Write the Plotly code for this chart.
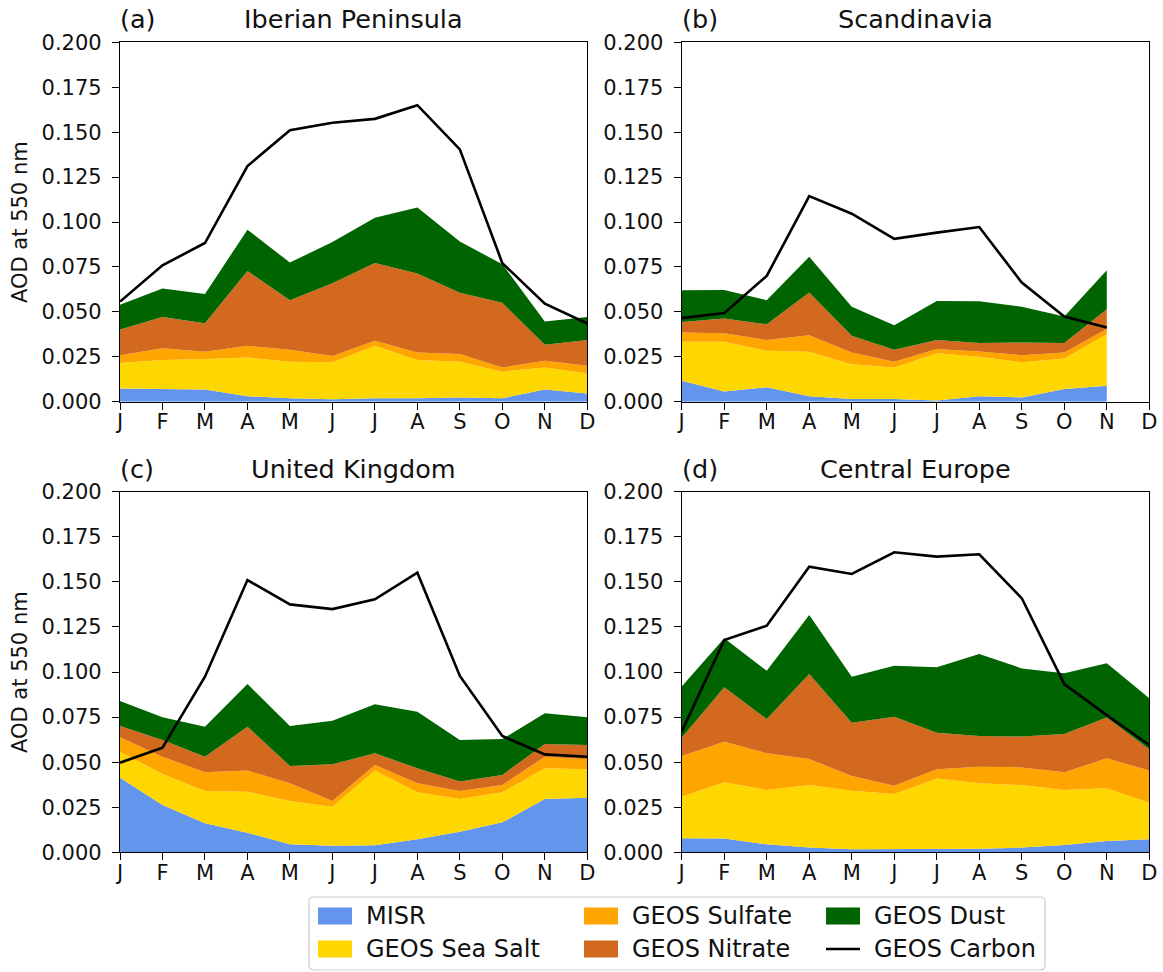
import plotly.graph_objects as go

# ---------------- data ----------------
months = ["J", "F", "M", "A", "M", "J", "J", "A", "S", "O", "N", "D"]
month_idx = list(range(12))

regions = ["Iberian Peninsula", "Scandinavia", "United Kingdom", "Central Europe"]
panel_tags = ["(a)", "(b)", "(c)", "(d)"]

series_names = ["MISR", "GEOS Sea Salt", "GEOS Sulfate", "GEOS Nitrate", "GEOS Dust"]
series_colors = ["#6495ED", "#FFD700", "#FFA500", "#D2691E", "#006400"]
carbon_name = "GEOS Carbon"

y_ticks = [0.0, 0.025, 0.05, 0.075, 0.1, 0.125, 0.15, 0.175, 0.2]

# (a) Iberian Peninsula
misr_a = [0.0074, 0.0072, 0.0068, 0.0030, 0.0019, 0.0014, 0.0019, 0.0019, 0.0024, 0.0019, 0.0068, 0.0046]
salt_a = [0.0141, 0.0160, 0.0169, 0.0216, 0.0203, 0.0205, 0.0292, 0.0213, 0.0198, 0.0148, 0.0123, 0.0113]
sulf_a = [0.0044, 0.0066, 0.0041, 0.0065, 0.0067, 0.0035, 0.0028, 0.0042, 0.0043, 0.0024, 0.0037, 0.0041]
nitr_a = [0.0143, 0.0174, 0.0159, 0.0417, 0.0276, 0.0405, 0.0433, 0.0439, 0.0341, 0.0359, 0.0089, 0.0143]
dust_a = [0.0137, 0.0158, 0.0163, 0.0229, 0.0209, 0.0230, 0.0252, 0.0367, 0.0285, 0.0215, 0.0129, 0.0129]
carb_a = [0.0557, 0.0759, 0.0883, 0.1311, 0.1511, 0.1552, 0.1574, 0.1650, 0.1404, 0.0771, 0.0546, 0.0435]

# (b) Scandinavia (no December value)
misr_b = [0.0117, 0.0057, 0.0080, 0.0030, 0.0015, 0.0015, 0.0006, 0.0030, 0.0024, 0.0070, 0.0089, None]
salt_b = [0.0216, 0.0276, 0.0203, 0.0248, 0.0194, 0.0176, 0.0263, 0.0220, 0.0195, 0.0171, 0.0287, None]
sulf_b = [0.0052, 0.0048, 0.0061, 0.0092, 0.0065, 0.0031, 0.0024, 0.0030, 0.0040, 0.0033, 0.0028, None]
nitr_b = [0.0059, 0.0082, 0.0087, 0.0237, 0.0093, 0.0067, 0.0050, 0.0046, 0.0071, 0.0052, 0.0111, None]
dust_b = [0.0176, 0.0159, 0.0134, 0.0199, 0.0161, 0.0137, 0.0218, 0.0233, 0.0198, 0.0148, 0.0216, None]
carb_b = [0.0465, 0.0493, 0.0700, 0.1144, 0.1046, 0.0906, 0.0941, 0.0972, 0.0663, 0.0474, 0.0413, None]

# (c) United Kingdom
misr_c = [0.0414, 0.0262, 0.0161, 0.0109, 0.0044, 0.0037, 0.0039, 0.0072, 0.0114, 0.0166, 0.0296, 0.0303]
salt_c = [0.0144, 0.0172, 0.0179, 0.0227, 0.0241, 0.0216, 0.0414, 0.0261, 0.0182, 0.0167, 0.0170, 0.0158]
sulf_c = [0.0080, 0.0096, 0.0104, 0.0117, 0.0098, 0.0032, 0.0031, 0.0050, 0.0044, 0.0040, 0.0064, 0.0055]
nitr_c = [0.0062, 0.0093, 0.0086, 0.0244, 0.0096, 0.0203, 0.0065, 0.0083, 0.0052, 0.0056, 0.0071, 0.0079]
dust_c = [0.0139, 0.0126, 0.0167, 0.0236, 0.0221, 0.0242, 0.0272, 0.0314, 0.0231, 0.0199, 0.0170, 0.0154]
carb_c = [0.0497, 0.0580, 0.0974, 0.1510, 0.1375, 0.1349, 0.1403, 0.1551, 0.0978, 0.0645, 0.0543, 0.0530]

# (d) Central Europe
misr_d = [0.0078, 0.0076, 0.0044, 0.0026, 0.0017, 0.0018, 0.0018, 0.0020, 0.0026, 0.0041, 0.0063, 0.0072]
salt_d = [0.0230, 0.0312, 0.0301, 0.0347, 0.0325, 0.0305, 0.0392, 0.0363, 0.0347, 0.0304, 0.0292, 0.0203]
sulf_d = [0.0226, 0.0225, 0.0204, 0.0144, 0.0081, 0.0046, 0.0050, 0.0092, 0.0098, 0.0099, 0.0166, 0.0178]
nitr_d = [0.0102, 0.0302, 0.0190, 0.0472, 0.0296, 0.0383, 0.0203, 0.0170, 0.0171, 0.0212, 0.0226, 0.0118]
dust_d = [0.0283, 0.0272, 0.0268, 0.0327, 0.0255, 0.0283, 0.0363, 0.0455, 0.0378, 0.0337, 0.0301, 0.0283]
carb_d = [0.0669, 0.1177, 0.1257, 0.1584, 0.1544, 0.1664, 0.1640, 0.1653, 0.1409, 0.0933, 0.0761, 0.0595]

panels = [
    [misr_a, salt_a, sulf_a, nitr_a, dust_a, carb_a],
    [misr_b, salt_b, sulf_b, nitr_b, dust_b, carb_b],
    [misr_c, salt_c, sulf_c, nitr_c, dust_c, carb_c],
    [misr_d, salt_d, sulf_d, nitr_d, dust_d, carb_d],
]

# ---------------- layout geometry (pixels) ----------------
W, H = 1163, 972
FONT = "DejaVu Sans"
TICK_SIZE = 21
TITLE_SIZE = 25.5
LEG_SIZE = 24

def fx(p):
    return p / W

def fy(p):
    return 1 - p / H

x_domains = [[fx(120), fx(587.3)], [fx(681.7), fx(1149.3)]]
y_domains = [[fy(401.7), fy(42.3)], [fy(852.3), fy(491.7)]]

fig = go.Figure()

for i, data in enumerate(panels):
    ax = "" if i == 0 else str(i + 1)
    xref, yref = "x" + ax, "y" + ax
    comps, carbon = data[:5], data[5]
    keep = [k for k in month_idx if carbon[k] is not None]
    xs = [month_idx[k] for k in keep]
    for name, color, vals in zip(series_names, series_colors, comps):
        fig.add_trace(go.Scatter(
            x=xs, y=[vals[k] for k in keep], name=name, xaxis=xref, yaxis=yref,
            stackgroup=f"p{i}", mode="lines", line=dict(width=0, color=color),
            fillcolor=color, showlegend=False, hoverinfo="skip"))
    fig.add_trace(go.Scatter(
        x=xs, y=[carbon[k] for k in keep], name=carbon_name, xaxis=xref, yaxis=yref,
        mode="lines", line=dict(color="black", width=2.6), showlegend=False,
        hoverinfo="skip"))

axis_common = dict(showline=True, linecolor="black", linewidth=1.2, mirror=True,
                   ticks="outside", ticklen=7, tickwidth=1.2, tickcolor="black",
                   showgrid=False, zeroline=False, automargin=False,
                   tickfont=dict(family=FONT, size=TICK_SIZE, color="#111"))

layout = dict(width=W, height=H, margin=dict(l=0, r=0, t=0, b=0, autoexpand=False),
              paper_bgcolor="white", plot_bgcolor="white", showlegend=False,
              font=dict(family=FONT, color="#111"))

annotations = []
for i in range(4):
    ax = "" if i == 0 else str(i + 1)
    col, row = i % 2, i // 2
    layout["xaxis" + ax] = dict(axis_common, domain=x_domains[col], anchor="y" + ax,
                                range=[0, 11], tickmode="array", tickvals=month_idx,
                                ticktext=months, ticklabelstandoff=-6)
    layout["yaxis" + ax] = dict(axis_common, domain=y_domains[row], anchor="x" + ax,
                                range=[0, 0.2], tickmode="array", tickvals=y_ticks,
                                tickformat=".3f", ticklabelstandoff=6)
    annotations.append(dict(text=regions[i], xref=f"x{ax} domain", yref=f"y{ax} domain",
                            x=0.5, y=1, xanchor="center", yanchor="bottom", yshift=6,
                            showarrow=False, font=dict(family=FONT, size=TITLE_SIZE, color="#111")))
    annotations.append(dict(text=panel_tags[i], xref=f"x{ax} domain", yref=f"y{ax} domain",
                            x=0, y=1, xanchor="left", yanchor="bottom", yshift=6, xshift=-2,
                            showarrow=False, font=dict(family=FONT, size=TITLE_SIZE, color="#111")))
    if col == 0:
        annotations.append(dict(text="AOD at 550 nm", xref="paper", yref=f"y{ax} domain",
                                x=fx(20), y=0.5, xanchor="center", yanchor="middle",
                                textangle=-90, showarrow=False,
                                font=dict(family=FONT, size=TICK_SIZE, color="#111")))

# ---------------- manual legend ----------------
def rounded_box(x0, y0, x1, y1, r):
    X = lambda v: f"{fx(v):.5f}"
    Y = lambda v: f"{fy(v):.5f}"
    return (f"M {X(x0 + r)},{Y(y0)} L {X(x1 - r)},{Y(y0)} Q {X(x1)},{Y(y0)} {X(x1)},{Y(y0 + r)} "
            f"L {X(x1)},{Y(y1 - r)} Q {X(x1)},{Y(y1)} {X(x1 - r)},{Y(y1)} "
            f"L {X(x0 + r)},{Y(y1)} Q {X(x0)},{Y(y1)} {X(x0)},{Y(y1 - r)} "
            f"L {X(x0)},{Y(y0 + r)} Q {X(x0)},{Y(y0)} {X(x0 + r)},{Y(y0)} Z")

shapes = [dict(type="path", xref="paper", yref="paper",
               path=rounded_box(309, 897, 1045, 970, 5),
               line=dict(color="#cccccc", width=1.2), fillcolor="white", layer="above")]

leg_names = series_names + [carbon_name]
leg_colors = series_colors + ["black"]
col_x = [318, 584, 826]
row_y = [916, 949]
handle_w, handle_h, text_gap = 34, 17, 12
for k, (name, color) in enumerate(zip(leg_names, leg_colors)):
    c, r = k // 2, k % 2
    hx, hy = col_x[c], row_y[r]
    if name == carbon_name:
        shapes.append(dict(type="line", xref="paper", yref="paper",
                           x0=fx(hx), x1=fx(hx + handle_w), y0=fy(hy), y1=fy(hy),
                           line=dict(color="black", width=2.6), layer="above"))
    else:
        shapes.append(dict(type="rect", xref="paper", yref="paper",
                           x0=fx(hx), x1=fx(hx + handle_w), y0=fy(hy - handle_h / 2),
                           y1=fy(hy + handle_h / 2), line=dict(width=0),
                           fillcolor=color, layer="above"))
    annotations.append(dict(text=name, xref="paper", yref="paper",
                            x=fx(hx + handle_w + text_gap), y=fy(hy), xanchor="left",
                            yanchor="middle", showarrow=False,
                            font=dict(family=FONT, size=LEG_SIZE, color="#111")))

layout["annotations"] = annotations
layout["shapes"] = shapes
fig.update_layout(**layout)

fig.write_html("out.html", config={"displayModeBar": False})
